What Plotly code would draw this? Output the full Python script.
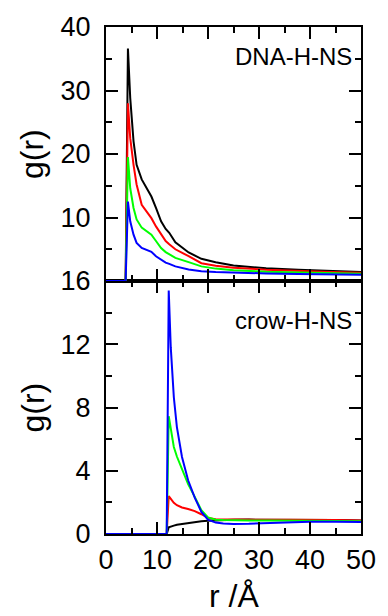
import plotly.graph_objects as go

# ---- data: top panel (DNA-H-NS) ----
r_top = [0, 3.85, 4.3, 4.75, 5.4, 6.0, 7.0, 7.9, 8.9, 9.8, 10.8, 11.7, 12.4, 13.6, 16.2,
         18.7, 21.5, 25.0, 31.4, 37.7, 44.0, 50.0]
black_top = [0, 0, 36.6, 28.8, 22.0, 18.3, 16.0, 14.6, 13.3, 11.5, 9.4, 8.2, 7.6, 6.1, 4.5,
             3.5, 2.95, 2.46, 1.99, 1.78, 1.57, 1.4]
red_top = [0, 0, 28.0, 22.5, 18.3, 15.2, 12.0, 11.0, 9.9, 8.6, 7.3, 6.3, 5.8, 5.0, 3.9,
           2.8, 2.4, 2.1, 1.78, 1.57, 1.41, 1.3]
green_top = [0, 0, 19.5, 14.6, 11.5, 9.7, 8.4, 7.85, 7.3, 6.3, 5.2, 4.55, 4.2, 3.65, 2.98,
             2.3, 1.95, 1.7, 1.46, 1.33, 1.24, 1.15]
blue_top = [0, 0, 12.5, 9.4, 7.3, 6.0, 5.2, 4.95, 4.6, 3.9, 3.3, 2.9, 2.7, 2.3, 1.8,
            1.55, 1.4, 1.3, 1.2, 1.1, 1.04, 0.98]

# ---- data: bottom panel (crow-H-NS) ----
r_bot = [0, 11.9, 12.3, 12.7, 13.3, 13.9, 14.9, 16.1, 17.4, 18.7, 20.0, 21.5, 23.0, 25.0,
         28.0, 32.0, 36.0, 40.0, 45.0, 50.0]
black_bot = [0, 0, 0.42, 0.48, 0.53, 0.58, 0.63, 0.7, 0.76, 0.8, 0.84, 0.87, 0.88, 0.9,
             0.91, 0.91, 0.9, 0.9, 0.88, 0.86]
red_bot = [0, 0, 2.4, 2.2, 1.97, 1.82, 1.68, 1.58, 1.45, 1.25, 1.02, 0.93, 0.92, 0.92,
           0.92, 0.9, 0.9, 0.9, 0.88, 0.85]
green_bot = [0, 0, 7.45, 6.55, 5.5, 4.9, 4.1, 3.15, 2.35, 1.5, 1.05, 0.9, 0.88, 0.85,
             0.85, 0.85, 0.85, 0.84, 0.82, 0.8]
blue_bot = [0, 0, 15.4, 11.8, 8.65, 6.76, 4.87, 3.4, 2.3, 1.4, 0.9, 0.72, 0.67, 0.64,
            0.65, 0.7, 0.75, 0.78, 0.78, 0.76]

colors = ["#000000", "#ff0000", "#00ff00", "#0000ff"]
top_series = [black_top, red_top, green_top, blue_top]
bot_series = [black_bot, red_bot, green_bot, blue_bot]

x_ticks = [0, 10, 20, 30, 40, 50]
top_yticks = [10, 20, 30, 40]
bot_yticks = [0, 4, 8, 12, 16]

FONT = "Liberation Sans, Arial, Helvetica, sans-serif"

fig = go.Figure()
for ys, c in zip(top_series, colors):
    fig.add_trace(go.Scatter(x=r_top, y=ys, mode="lines", line=dict(color=c, width=2),
                             xaxis="x2", yaxis="y2", showlegend=False))
for ys, c in zip(bot_series, colors):
    fig.add_trace(go.Scatter(x=r_bot, y=ys, mode="lines", line=dict(color=c, width=2),
                             xaxis="x", yaxis="y", showlegend=False))

axis_common = dict(showline=True, linewidth=2, linecolor="black", mirror="allticks",
                   ticks="inside", ticklen=12, tickwidth=2, tickcolor="black",
                   showgrid=False, zeroline=False, layer="above traces",
                   tickfont=dict(family=FONT, size=27, color="black"))
minor_common = dict(ticks="inside", ticklen=6, tickwidth=2, tickcolor="black")

split = 0.499
fig.update_layout(
    width=388, height=616,
    margin=dict(l=106, r=21, t=26, b=82),
    paper_bgcolor="white", plot_bgcolor="white",
    xaxis=dict(axis_common, range=[0, 50], tickvals=x_ticks, anchor="y",
               minor=dict(minor_common, tickvals=[5, 15, 25, 35, 45]),
               ticklabelstandoff=1),
    xaxis2=dict(axis_common, range=[0, 50], tickvals=x_ticks, anchor="y2",
                showticklabels=False,
                minor=dict(minor_common, tickvals=[5, 15, 25, 35, 45])),
    yaxis=dict(axis_common, range=[0, 16], tickvals=bot_yticks, domain=[0, split],
               anchor="x",
               minor=dict(minor_common, tickvals=[2, 6, 10, 14]),
               ticklabelstandoff=8),
    yaxis2=dict(axis_common, range=[0, 40], tickvals=top_yticks, domain=[split, 1],
                anchor="x2",
                minor=dict(minor_common, tickvals=[5, 15, 25, 35]),
                ticklabelstandoff=8),
)

ann_font = dict(family=FONT, size=24, color="black")
title_font = dict(family=FONT, size=32, color="black")
fig.add_annotation(text="DNA-H-NS", x=48.6, y=35.3, xref="x2", yref="y2",
                   xanchor="right", yanchor="middle", showarrow=False, font=ann_font)
fig.add_annotation(text="crow-H-NS", x=48.6, y=13.5, xref="x", yref="y",
                   xanchor="right", yanchor="middle", showarrow=False, font=ann_font)
fig.add_annotation(text="g(r)", x=-0.29, y=0.5, xref="paper", yref="y2 domain",
                   textangle=-90, xanchor="center", yanchor="middle", showarrow=False,
                   font=title_font)
fig.add_annotation(text="g(r)", x=-0.29, y=0.5, xref="paper", yref="y domain",
                   textangle=-90, xanchor="center", yanchor="middle", showarrow=False,
                   font=title_font)
fig.add_annotation(text="r /Å", x=0.5, y=0, xref="paper", yref="paper",
                   xanchor="center", yanchor="bottom", yshift=-82, showarrow=False,
                   font=title_font)

fig.write_html("out.html")
